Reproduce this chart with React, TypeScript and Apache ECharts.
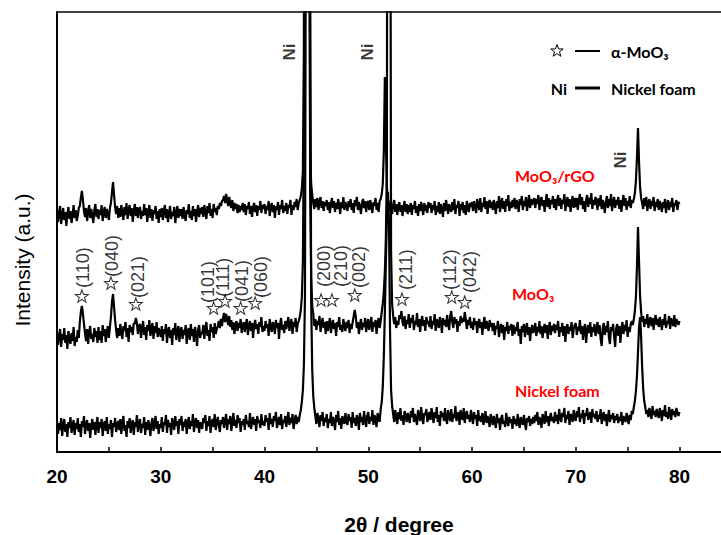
import React, { useEffect, useRef } from "react";
import * as echarts from "echarts";

// 2θ scan grid (degrees), 0.1° step from 20 to 80
const twoTheta: number[] = Array.from({ length: 601 }, (_, i) => +(20 + i * 0.1).toFixed(1));

// Nickel foam intensity (a.u.), one value per 2θ step (rows of 2°)
const nickelFoam: number[] = [
  31, 18, 29, 22, 34, 16, 27, 33, 20, 28, 15, 30, 24, 35, 19, 26, 32, 17, 29, 23,
  34, 20, 28, 15, 31, 25, 36, 18, 27, 32, 21, 29, 14, 26, 33, 22, 30, 17, 28, 35,
  19, 30, 24, 33, 16, 27, 31, 21, 35, 18, 28, 23, 32, 15, 29, 25, 34, 20, 27, 31,
  22, 33, 18, 29, 36, 21, 27, 15, 31, 24, 34, 19, 28, 32, 17, 30, 25, 37, 20, 29,
  33, 19, 28, 24, 35, 17, 30, 22, 32, 26, 16, 29, 34, 21, 27, 36, 23, 31, 18, 28,
  24, 35, 20, 30, 27, 37, 19, 32, 25, 29, 17, 34, 28, 22, 36, 26, 31, 18, 33, 27,
  36, 21, 30, 25, 33, 18, 28, 35, 23, 31, 26, 38, 20, 29, 34, 24, 32, 19, 30, 27,
  23, 34, 29, 37, 21, 31, 26, 36, 19, 30, 33, 25, 38, 22, 29, 35, 27, 20, 32, 28,
  35, 24, 31, 38, 22, 33, 28, 36, 21, 30, 39, 26, 32, 24, 37, 29, 34, 20, 31, 27,
  33, 22, 37, 28, 31, 25, 39, 23, 30, 35, 27, 33, 21, 36, 29, 32, 24, 38, 27, 31,
  26, 37, 30, 34, 22, 39, 28, 33, 25, 36, 31, 40, 24, 30, 35, 27, 38, 23, 32, 29,
  36, 25, 33, 40, 27, 34, 29, 38, 23, 32, 37, 28, 35, 30, 37, 42, 50, 62, 88, 155,
  600, 2000, 3000, 2000, 500, 150, 82, 56, 44, 36, 28, 39, 33, 25, 37, 31, 40, 26, 34, 30,
  38, 24, 33, 29, 40, 26, 35, 31, 22, 37, 30, 41, 27, 34, 23, 36, 32, 28, 39, 30,
  27, 38, 31, 35, 24, 40, 29, 34, 26, 37, 33, 22, 39, 30, 35, 27, 41, 31, 25, 36,
  40, 28, 35, 31, 42, 27, 37, 33, 25, 39, 34, 30, 43, 50, 65, 95, 140, 190, 235, 260,
  230, 120, 62, 46, 38, 30, 42, 35, 28, 40, 33, 44, 31, 37, 27, 41, 36, 30, 39, 34,
  29, 41, 35, 44, 30, 38, 33, 27, 42, 36, 31, 45, 34, 28, 39, 37, 43, 30, 35, 40,
  32, 44, 36, 29, 40, 34, 45, 30, 37, 26, 41, 35, 39, 31, 44, 33, 28, 42, 36, 31,
  43, 30, 38, 34, 46, 31, 36, 40, 27, 42, 35, 32, 44, 29, 38, 41, 33, 37, 30, 42,
  35, 28, 40, 33, 37, 26, 42, 31, 36, 30, 39, 27, 34, 41, 29, 36, 32, 25, 38, 33,
  27, 36, 31, 24, 38, 29, 34, 22, 33, 37, 28, 31, 25, 39, 30, 26, 35, 29, 33, 23,
  36, 28, 33, 26, 38, 30, 24, 35, 31, 27, 37, 29, 22, 34, 30, 36, 26, 33, 28, 35,
  29, 37, 31, 40, 27, 35, 32, 24, 38, 33, 28, 41, 30, 36, 26, 34, 39, 31, 35, 29,
  40, 31, 37, 28, 43, 34, 30, 39, 35, 44, 29, 37, 33, 41, 27, 38, 36, 30, 42, 34,
  31, 41, 35, 45, 30, 38, 34, 42, 28, 39, 36, 44, 32, 37, 40, 29, 43, 35, 38, 33,
  41, 30, 37, 33, 43, 28, 36, 40, 31, 38, 26, 35, 42, 30, 37, 33, 39, 29, 36, 32,
  38, 29, 35, 31, 40, 27, 36, 33, 30, 39, 34, 28, 37, 32, 41, 38, 45, 51, 61, 76,
  100, 125, 135, 115, 85, 63, 51, 45, 38, 42, 35, 44, 39, 33, 46, 37, 41, 35, 43, 38,
  34, 44, 39, 31, 42, 36, 47, 35, 40, 33, 45, 38, 32, 43, 37, 41, 35, 44, 39, 36,
  40,
];

// MoO3 on nickel foam
const moo3: number[] = [
  120, 107, 116, 123, 105, 118, 112, 124, 109, 117, 103, 121, 113, 108, 119, 111, 125, 106, 115, 110,
  122, 114, 130, 140, 146, 138, 128, 119, 111, 123, 108, 120, 126, 113, 118, 110, 124, 115, 121, 109,
  125, 112, 121, 109, 127, 116, 123, 110, 119, 126, 114, 125, 135, 150, 158, 145, 132, 122, 114, 124,
  116, 128, 119, 113, 126, 121, 130, 115, 124, 110, 127, 120, 125, 117, 129, 128, 134, 129, 118, 126,
  128, 114, 124, 131, 117, 125, 112, 127, 121, 132, 116, 123, 129, 113, 126, 119, 130, 115, 124, 120,
  115, 126, 111, 123, 118, 128, 109, 121, 125, 114, 122, 107, 124, 117, 129, 112, 120, 126, 110, 122,
  125, 113, 122, 117, 127, 108, 121, 124, 112, 128, 116, 123, 110, 125, 119, 106, 122, 127, 114, 120,
  118, 127, 113, 124, 130, 116, 122, 111, 128, 120, 125, 114, 129, 118, 123, 126, 131, 124, 133, 126,
  134, 139, 130, 138, 133, 127, 136, 125, 132, 122, 130, 118, 127, 131, 121, 129, 124, 133, 119, 127,
  130, 120, 128, 133, 117, 126, 131, 121, 129, 114, 127, 132, 123, 128, 118, 130, 125, 135, 120, 126,
  121, 131, 124, 128, 116, 133, 125, 120, 130, 127, 118, 132, 124, 129, 113, 128, 134, 122, 127, 119,
  131, 123, 129, 135, 121, 127, 133, 118, 130, 125, 134, 120, 128, 131, 135, 142, 155, 190, 320, 1200,
  3500, 3000, 2200, 900, 260, 175, 146, 138, 126, 133, 122, 131, 127, 136, 120, 129, 134, 124, 130, 118,
  131, 121, 128, 134, 119, 127, 132, 123, 129, 116, 130, 125, 135, 122, 127, 120, 133, 126, 121, 130,
  124, 132, 119, 128, 123, 130, 136, 142, 135, 124, 130, 118, 127, 133, 122, 129, 125, 134, 120, 128,
  133, 122, 128, 135, 120, 130, 125, 132, 118, 129, 134, 124, 131, 140, 148, 160, 180, 215, 290, 1500,
  5000, 800, 200, 148, 136, 128, 135, 124, 131, 127, 137, 133, 141, 130, 126, 136, 123, 132, 128, 138,
  124, 134, 129, 137, 122, 131, 127, 139, 125, 133, 120, 130, 136, 126, 132, 121, 135, 128, 131, 125,
  136, 123, 131, 127, 138, 121, 133, 129, 124, 135, 130, 119, 134, 127, 132, 125, 137, 128, 122, 136,
  141, 130, 124, 135, 128, 133, 120, 131, 126, 136, 129, 134, 130, 140, 133, 123, 132, 127, 135, 124,
  130, 122, 134, 127, 131, 119, 129, 133, 124, 130, 117, 128, 135, 123, 131, 126, 121, 132, 125, 129,
  121, 129, 117, 126, 123, 131, 115, 124, 128, 119, 127, 112, 125, 121, 130, 118, 126, 122, 128, 116,
  127, 118, 125, 121, 130, 116, 123, 108, 126, 120, 128, 115, 124, 129, 117, 125, 111, 122, 127, 119,
  122, 129, 116, 125, 120, 131, 118, 126, 114, 123, 128, 119, 127, 113, 124, 130, 117, 126, 121, 128,
  119, 127, 122, 131, 115, 125, 120, 129, 116, 126, 110, 124, 128, 118, 125, 121, 130, 114, 123, 127,
  129, 117, 125, 121, 132, 118, 126, 112, 124, 128, 109, 122, 127, 119, 130, 115, 125, 120, 128, 116,
  123, 130, 118, 127, 113, 106, 124, 129, 117, 126, 120, 131, 114, 108, 125, 121, 128, 115, 105, 124,
  128, 116, 126, 109, 123, 130, 118, 127, 121, 132, 115, 125, 120, 128, 131, 127, 133, 141, 155, 185,
  225, 190, 156, 140, 130, 136, 125, 133, 128, 138, 124, 131, 135, 126, 134, 122, 132, 137, 127, 133,
  125, 135, 129, 122, 133, 127, 138, 124, 131, 128, 136, 123, 134, 129, 126, 137, 125, 133, 130, 127,
  131,
];

// MoO3/rGO on nickel foam
const moo3rgo: number[] = [
  243, 230, 239, 246, 228, 236, 244, 232, 240, 226, 238, 245, 233, 241, 229, 237, 247, 234, 242, 231,
  236, 244, 246, 254, 261, 252, 241, 235, 244, 231, 240, 247, 234, 243, 237, 229, 242, 248, 235, 243,
  233, 242, 237, 247, 231, 240, 245, 234, 243, 238, 232, 244, 249, 260, 270, 257, 245, 238, 246, 234,
  244, 235, 247, 239, 232, 245, 237, 249, 233, 242, 247, 236, 244, 230, 240, 248, 236, 245, 234, 243,
  245, 233, 241, 236, 248, 237, 244, 230, 240, 247, 234, 243, 231, 242, 238, 246, 233, 241, 229, 243,
  235, 244, 232, 241, 247, 234, 243, 230, 239, 246, 233, 240, 236, 245, 229, 238, 246, 234, 243, 236,
  243, 233, 245, 237, 231, 242, 238, 248, 234, 241, 232, 246, 236, 243, 230, 240, 247, 235, 244, 238,
  245, 235, 247, 240, 233, 246, 239, 249, 236, 243, 234, 248, 240, 244, 237, 246, 243, 249, 246, 251,
  252, 256, 249, 258, 252, 246, 255, 248, 244, 252, 241, 249, 243, 248, 239, 247, 240, 246, 242, 249,
  240, 248, 237, 246, 243, 250, 238, 246, 235, 245, 249, 240, 247, 236, 246, 242, 251, 239, 247, 243,
  248, 238, 246, 242, 251, 236, 245, 249, 240, 247, 234, 246, 242, 250, 237, 247, 243, 252, 239, 246,
  241, 249, 238, 247, 244, 252, 237, 247, 242, 250, 245, 253, 242, 249, 252, 256, 263, 281, 400, 1800,
  3000, 2500, 1800, 600, 300, 268, 257, 249, 243, 253, 245, 254, 242, 250, 255, 244, 251, 241, 250, 246,
  252, 242, 250, 239, 248, 254, 244, 251, 240, 249, 243, 253, 246, 238, 250, 244, 255, 242, 250, 246,
  241, 251, 245, 253, 242, 249, 239, 252, 246, 255, 242, 250, 245, 238, 249, 253, 244, 251, 240, 249,
  251, 242, 252, 245, 239, 250, 246, 254, 242, 249, 240, 251, 253, 258, 268, 300, 375, 310, 265, 252,
  249, 241, 248, 238, 247, 252, 240, 248, 237, 246, 250, 240, 247, 236, 245, 251, 240, 248, 238, 247,
  240, 249, 237, 247, 243, 251, 239, 246, 236, 248, 241, 250, 244, 237, 249, 241, 247, 239, 250, 244,
  249, 239, 247, 242, 251, 237, 246, 240, 250, 238, 248, 243, 235, 249, 241, 252, 245, 238, 248, 243,
  240, 250, 242, 253, 238, 247, 244, 251, 236, 248, 242, 250, 239, 247, 237, 251, 244, 240, 249, 245,
  250, 241, 251, 245, 239, 253, 247, 242, 254, 240, 249, 245, 255, 243, 251, 238, 249, 252, 244, 250,
  242, 252, 246, 238, 251, 244, 256, 240, 249, 254, 243, 251, 240, 253, 246, 257, 241, 250, 244, 252,
  245, 254, 243, 252, 248, 240, 253, 247, 256, 242, 251, 246, 255, 241, 249, 257, 244, 253, 247, 251,
  254, 244, 253, 248, 257, 242, 251, 255, 246, 252, 240, 250, 258, 245, 254, 243, 252, 248, 256, 244,
  253, 242, 251, 257, 246, 254, 243, 252, 248, 258, 241, 250, 255, 245, 253, 240, 250, 256, 244, 254,
  245, 254, 242, 252, 258, 247, 255, 243, 251, 240, 252, 257, 245, 254, 248, 259, 243, 252, 247, 255,
  251, 242, 254, 246, 257, 243, 252, 248, 239, 250, 256, 244, 253, 246, 258, 241, 250, 255, 244, 252,
  247, 255, 243, 252, 240, 250, 257, 246, 254, 242, 251, 246, 256, 244, 252, 249, 253, 259, 271, 295,
  324, 290, 265, 254, 249, 243, 254, 246, 255, 241, 250, 253, 243, 251, 246, 255, 241, 250, 245, 253,
  242, 251, 246, 240, 250, 244, 253, 239, 248, 252, 242, 250, 245, 254, 240, 249, 246, 252, 242, 250,
  248,
];

// α-MoO3 reflections: label, star position (2θ, intensity), label base (2θ, intensity)
const millerLabels = ["(110)", "(040)", "(021)", "(101)", "(111)", "(041)", "(060)", "(200)", "(210)", "(002)", "(211)", "(112)", "(042)"];
const starTheta = [22.4, 25.2, 27.6, 35.1, 36.2, 37.7, 39.1, 45.45, 46.5, 48.7, 53.25, 58.05, 59.3];
const starIntensity = [156, 169, 148, 144, 151, 144, 149, 152, 152, 157, 153, 155, 150];
const labelTheta = [22.5, 25.3, 27.85, 34.55, 36.0, 37.8, 39.65, 45.75, 47.35, 49.15, 53.6, 57.9, 59.8];
const labelIntensity = [164, 175, 154, 149, 155, 150, 154, 165, 165, 164, 162, 162, 159];

// Ni reflection labels
const niTheta = [42.45, 49.9, 74.3];
const niIntensity = [400, 400, 292];

const xTicks = [20, 25, 30, 35, 40, 45, 50, 55, 60, 65, 70, 75, 80];
const xTickLabels = [20, 30, 40, 50, 60, 70, 80];

const ARIAL = "'Liberation Sans', Arial, sans-serif";
const CAL = "Lato, 'Noto Sans', sans-serif";

const STAR_PATH =
  "path://M10 0 L12.35 6.76 L19.51 6.91 L13.8 11.24 L15.88 18.09 L10 14 L4.12 18.09 L6.2 11.24 L0.49 6.91 L7.65 6.76 Z";

function starPoints(cx: number, cy: number, r: number): number[][] {
  const pts: number[][] = [];
  for (let k = 0; k < 10; k++) {
    const a = (-90 + k * 36) * (Math.PI / 180);
    const rr = k % 2 === 0 ? r : r * 0.4;
    pts.push([cx + rr * Math.cos(a), cy + rr * Math.sin(a)]);
  }
  return pts;
}

export default function App() {
  const ref = useRef<HTMLDivElement>(null);

  useEffect(() => {
    if (!ref.current) return;
    const chart = echarts.init(ref.current, undefined, { renderer: "svg" });

    const lineSeries = (name: string, ys: number[]) => ({
      type: "line",
      name,
      data: twoTheta.map((x, i) => [x, ys[i]]),
      showSymbol: false,
      symbol: "none",
      clip: true,
      lineStyle: { color: "#000", width: 2.2 },
      z: 2,
    });

    chart.setOption({
      animation: false,
      grid: { left: 57, right: 0, top: 12, bottom: 83 },
      xAxis: [
        {
          type: "value",
          min: 20,
          max: 84,
          interval: 5,
          axisLine: { show: true, lineStyle: { color: "#000", width: 2 } },
          axisTick: { show: true, inside: true, length: 5, lineStyle: { color: "#000", width: 1.5 }, customValues: xTicks },
          axisLabel: {
            show: true,
            customValues: xTickLabels,
            fontSize: 19,
            fontWeight: "bold",
            fontFamily: ARIAL,
            color: "#000",
            margin: 15,
          },
          splitLine: { show: false },
        },
        {
          type: "value",
          position: "top",
          min: 20,
          max: 84,
          axisLine: { show: true, lineStyle: { color: "#000", width: 1.5 } },
          axisTick: { show: false },
          axisLabel: { show: false },
          splitLine: { show: false },
        },
      ],
      yAxis: {
        type: "value",
        min: 0,
        max: 440,
        axisLine: { show: true, lineStyle: { color: "#000", width: 2 } },
        axisTick: { show: false },
        axisLabel: { show: false },
        splitLine: { show: false },
      },
      series: [
        lineSeries("Nickel foam", nickelFoam),
        lineSeries("MoO3", moo3),
        lineSeries("MoO3/rGO", moo3rgo),
        {
          type: "scatter",
          name: "stars",
          symbol: STAR_PATH,
          symbolSize: [13, 12.4],
          itemStyle: { color: "#fff", borderColor: "#000", borderWidth: 1 },
          data: starTheta.map((x, i) => [x, starIntensity[i]]),
          z: 4,
          silent: true,
        },
        {
          type: "scatter",
          name: "miller",
          symbolSize: 0,
          data: millerLabels.map((n, i) => ({ name: n, value: [labelTheta[i], labelIntensity[i]] })),
          label: {
            show: true,
            formatter: "{b}",
            position: "inside",
            rotate: 90,
            align: "left",
            verticalAlign: "middle",
            fontSize: 18,
            fontFamily: ARIAL,
            color: "#000",
          },
          z: 5,
          silent: true,
        },
        {
          type: "scatter",
          name: "ni",
          symbolSize: 0,
          data: niTheta.map((x, i) => ({ name: "Ni", value: [x, niIntensity[i]] })),
          label: {
            show: true,
            formatter: "{b}",
            position: "inside",
            rotate: 90,
            align: "center",
            verticalAlign: "middle",
            fontSize: 17,
            fontWeight: "bold",
            fontFamily: ARIAL,
            color: "#000",
          },
          z: 5,
          silent: true,
        },
      ],
      graphic: [
        {
          type: "text",
          x: 22,
          y: 260,
          rotation: Math.PI / 2,
          style: {
            text: "Intensity (a.u.)",
            fontSize: 21,
            fontFamily: ARIAL,
            fill: "#000",
            align: "center",
            verticalAlign: "middle",
          },
        },
        {
          type: "text",
          x: 399,
          y: 524,
          style: {
            text: "2θ / degree",
            fontSize: 21,
            fontWeight: "bold",
            fontFamily: ARIAL,
            fill: "#000",
            align: "center",
            verticalAlign: "middle",
          },
        },
        // legend
        {
          type: "polygon",
          shape: { points: starPoints(557, 51, 6.5) },
          style: { fill: "#fff", stroke: "#000", lineWidth: 1 },
        },
        { type: "line", shape: { x1: 575, y1: 51, x2: 600, y2: 51 }, style: { stroke: "#000", lineWidth: 2 } },
        {
          type: "text",
          x: 611,
          y: 51,
          style: { text: "α-MoO₃", fontSize: 16, fontWeight: "bold", fontFamily: CAL, fill: "#000", verticalAlign: "middle" },
        },
        {
          type: "text",
          x: 559,
          y: 88,
          style: { text: "Ni", fontSize: 16, fontWeight: "bold", fontFamily: CAL, fill: "#000", align: "center", verticalAlign: "middle" },
        },
        { type: "line", shape: { x1: 575, y1: 88, x2: 600, y2: 88 }, style: { stroke: "#000", lineWidth: 3 } },
        {
          type: "text",
          x: 611,
          y: 88,
          style: { text: "Nickel foam", fontSize: 16, fontWeight: "bold", fontFamily: CAL, fill: "#000", verticalAlign: "middle" },
        },
        // sample labels
        {
          type: "text",
          x: 515,
          y: 175,
          style: { text: "MoO₃/rGO", fontSize: 16, fontWeight: "bold", fontFamily: CAL, fill: "#ff0000", verticalAlign: "middle" },
        },
        {
          type: "text",
          x: 512,
          y: 293,
          style: { text: "MoO₃", fontSize: 16, fontWeight: "bold", fontFamily: CAL, fill: "#ff0000", verticalAlign: "middle" },
        },
        {
          type: "text",
          x: 515,
          y: 390,
          style: { text: "Nickel foam", fontSize: 16, fontWeight: "bold", fontFamily: CAL, fill: "#ff0000", verticalAlign: "middle" },
        },
      ],
    });

    return () => chart.dispose();
  }, []);

  return (
    <div
      ref={ref}
      style={{ position: "absolute", left: 0, top: 0, width: 721, height: 535, background: "#fff" }}
    />
  );
}
